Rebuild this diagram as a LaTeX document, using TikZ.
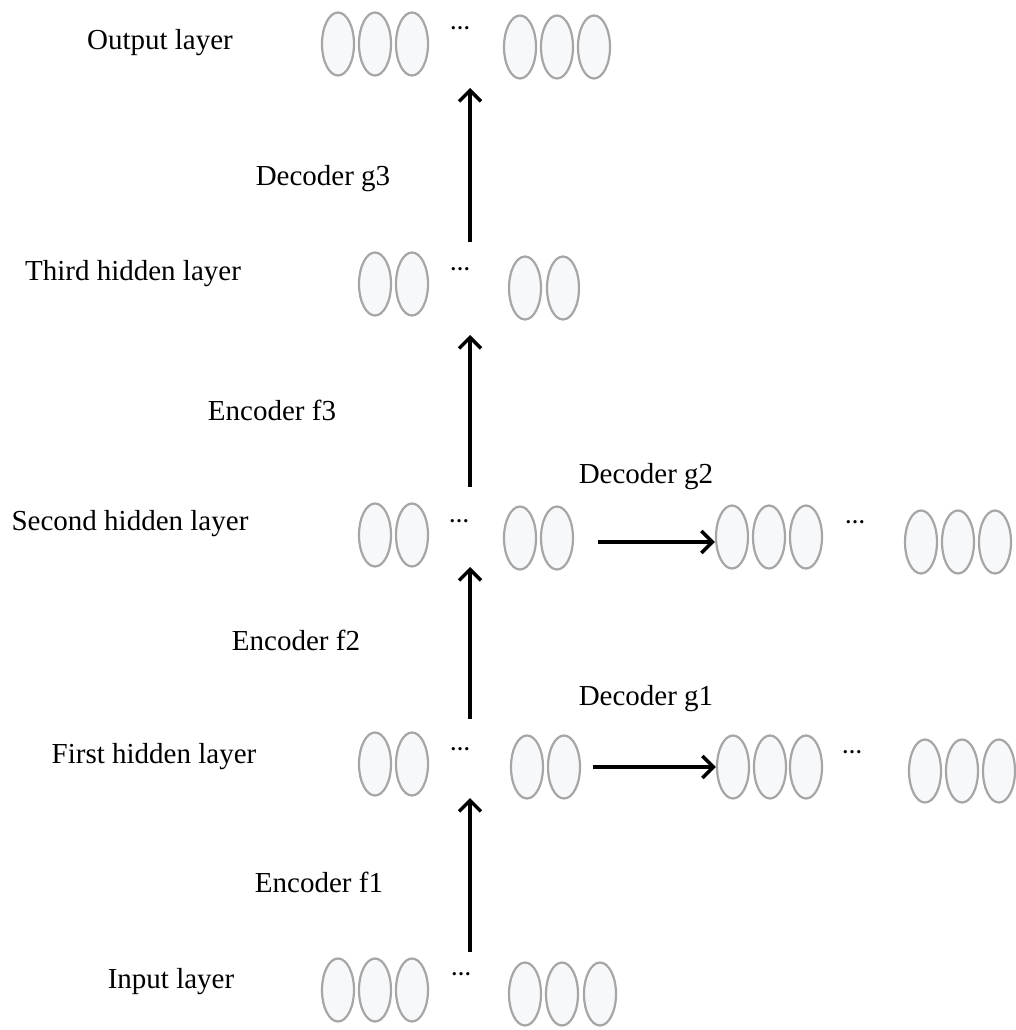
\documentclass[tikz,border=0pt]{standalone}
\usepackage{fontspec}
\setmainfont{Liberation Serif}
\usetikzlibrary{arrows.meta,shapes.geometric}
\definecolor{neurongray}{HTML}{A6A6A6}
\definecolor{neuronfill}{HTML}{F7F8FA}
\begin{document}
\begin{tikzpicture}[x=1pt,y=-1pt,
  neuron/.style={ellipse, draw=neurongray, fill=neuronfill, line width=2.2pt,
    minimum width=32pt, minimum height=63pt, inner sep=0pt},
  lbl/.style={font=\fontsize{29}{32}\selectfont, inner sep=0pt, anchor=base},
  dotsnode/.style={font=\bfseries\fontsize{20}{22}\selectfont, inner sep=0pt, anchor=base},
  flow/.style={line width=3.5pt, -{Straight Barb[length=11pt,width=22pt,line width=3.5pt]}}]
\useasboundingbox (0,0) rectangle (1016,1030);

% Output layer
\foreach \x [count=\i] in {338,375,412} \node[neuron] (oa\i) at (\x,44) {};
\foreach \x [count=\i] in {520,557,594} \node[neuron] (ob\i) at (\x,47) {};
\node[dotsnode] (odots) at (460,30) {…};

% Third hidden layer
\foreach \x [count=\i] in {375,412} \node[neuron] (ta\i) at (\x,284) {};
\foreach \x [count=\i] in {525,563} \node[neuron] (tb\i) at (\x,288) {};
\node[dotsnode] (tdots) at (460,270) {…};

% Second hidden layer
\foreach \x [count=\i] in {375,412} \node[neuron] (sa\i) at (\x,535) {};
\foreach \x [count=\i] in {520,557} \node[neuron] (sb\i) at (\x,538) {};
\node[dotsnode] (sdots) at (459,522) {…};
\foreach \x [count=\i] in {732,769,806} \node[neuron] (sc\i) at (\x,537) {};
\node[dotsnode] (sdots2) at (855,523) {…};
\foreach \x [count=\i] in {921,958,995} \node[neuron] (sd\i) at (\x,542) {};

% First hidden layer
\foreach \x [count=\i] in {375,412} \node[neuron] (fa\i) at (\x,764) {};
\foreach \x [count=\i] in {527,564} \node[neuron] (fb\i) at (\x,767) {};
\node[dotsnode] (fdots) at (460,750) {…};
\foreach \x [count=\i] in {733,770,806} \node[neuron] (fc\i) at (\x,767) {};
\node[dotsnode] (fdots2) at (852,753) {…};
\foreach \x [count=\i] in {925,962,999} \node[neuron] (fd\i) at (\x,771) {};

% Input layer
\foreach \x [count=\i] in {338,375,412} \node[neuron] (ia\i) at (\x,990) {};
\foreach \x [count=\i] in {525,562,600} \node[neuron] (ib\i) at (\x,994) {};
\node[dotsnode] (idots) at (461,975) {…};

% Labels
\node[lbl] (lout) at (160,50) {Output layer};
\node[lbl] (lg3) at (323,185) {Decoder g3};
\node[lbl] (lthird) at (133,280) {Third hidden layer};
\node[lbl] (lf3) at (272,420) {Encoder f3};
\node[lbl] (lsecond) at (130,530) {Second hidden layer};
\node[lbl] (lg2) at (646,483) {Decoder g2};
\node[lbl] (lf2) at (296,650) {Encoder f2};
\node[lbl] (lg1) at (646,705) {Decoder g1};
\node[lbl] (lfirst) at (154,763) {First hidden layer};
\node[lbl] (lf1) at (319,892) {Encoder f1};
\node[lbl] (lin) at (171,988) {Input layer};

% Arrow end points
\coordinate (g3s) at (470,242);
\coordinate (g3e) at (470,88);
\coordinate (f3s) at (470,487);
\coordinate (f3e) at (470,335);
\coordinate (f2s) at (470,719);
\coordinate (f2e) at (470,567);
\coordinate (f1s) at (470,952);
\coordinate (f1e) at (470,798);
\coordinate (g2s) at (598,542);
\coordinate (g1s) at (593,767);

\draw[flow] (g3s) -- (g3e);
\draw[flow] (f3s) -- (f3e);
\draw[flow] (f2s) -- (f2e);
\draw[flow] (f1s) -- (f1e);
\draw[flow] (g2s) -- (sc1.west |- g2s);
\draw[flow] (g1s) -- (fc1.west |- g1s);
\end{tikzpicture}
\end{document}
